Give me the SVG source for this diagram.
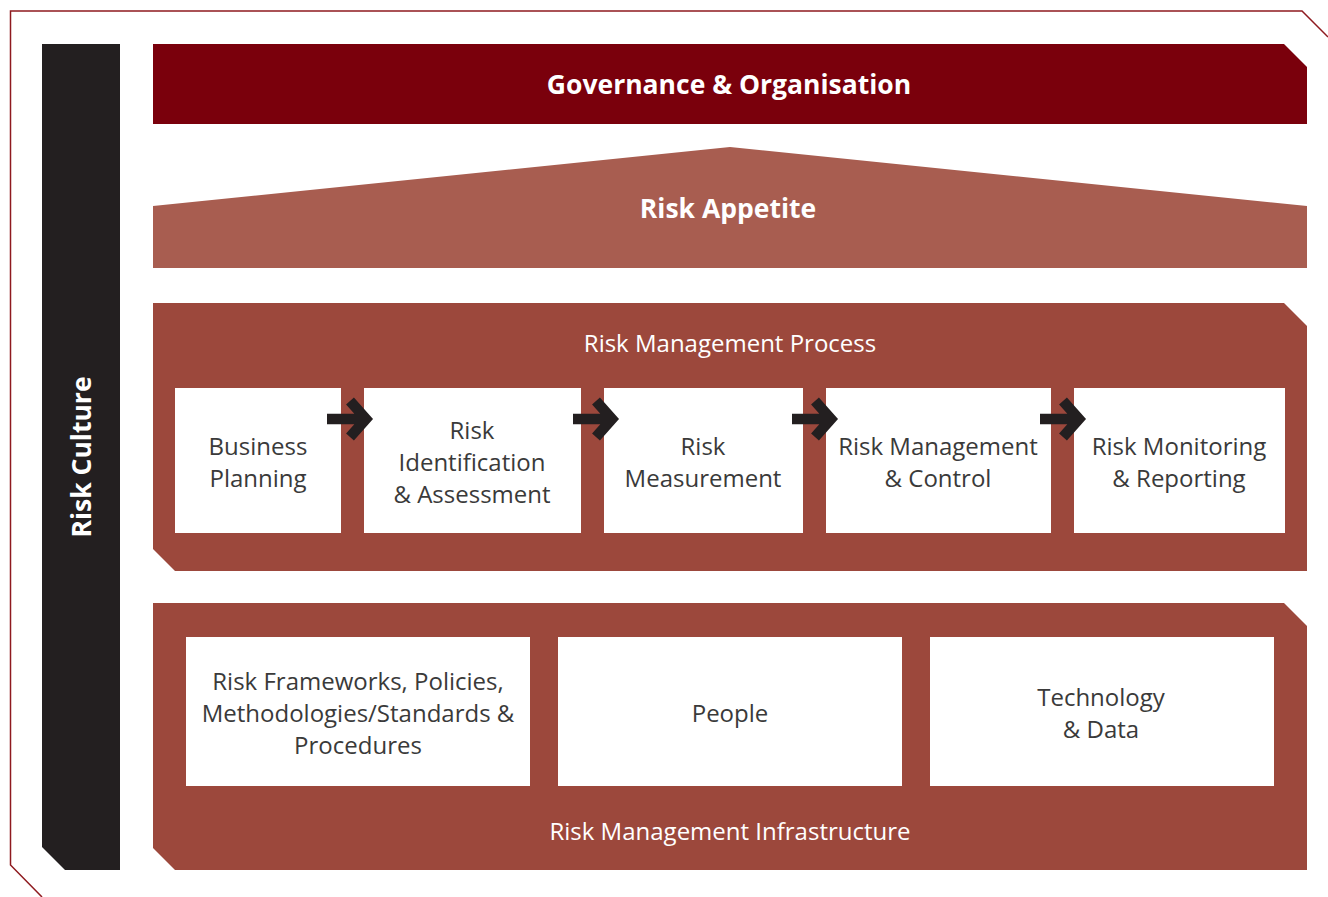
<svg xmlns="http://www.w3.org/2000/svg" width="1328" height="897" viewBox="0 0 1328 897">
<defs>
<style>
.t{font-family:"Open Sans","Liberation Sans",sans-serif;}
.w{fill:#ffffff;}
.b{font-weight:bold;font-size:26.5px;}
.d{fill:#3a3a3a;font-size:24px;}
.h{font-size:24px;}
.box{fill:#ffffff;}
.band{fill:#9c483c;}
.arr{fill:none;stroke:#231f20;stroke-width:10.5;stroke-linejoin:miter;stroke-miterlimit:4;}
</style>
</defs>
<rect width="1328" height="897" fill="#ffffff"/>
<g id="frame">
<polyline points="1328,37 1302,11 10.5,11 10.5,865 42,897" fill="none" stroke="#8e1a1f" stroke-width="1.5"/>
</g>
<g id="risk-culture">
<polygon points="42,44 120,44 120,870 65,870 42,847" fill="#231f20"/>
<text class="t w b" text-anchor="middle" transform="translate(91,457) rotate(-90)">Risk Culture</text>
</g>
<g id="governance">
<polygon points="153,44 1284,44 1307,67 1307,124 153,124" fill="#7a000c"/>
<text class="t w b" x="729" y="94" text-anchor="middle">Governance &amp; Organisation</text>
</g>
<g id="risk-appetite">
<polygon points="153,206 730,147 1307,206 1307,268 153,268" fill="#a85d50"/>
<text class="t w b" x="728" y="218" text-anchor="middle">Risk Appetite</text>
</g>
<g id="process">
<polygon class="band" points="153,303 1284,303 1307,326 1307,571 175,571 153,549"/>
<text class="t w h" x="730" y="352" text-anchor="middle">Risk Management Process</text>
</g>
<g id="business-planning">
<rect class="box" x="175" y="388" width="166" height="145"/>
<text class="t d" text-anchor="middle"><tspan x="258" y="455">Business</tspan><tspan x="258" y="487">Planning</tspan></text>
</g>
<g id="risk-identification">
<rect class="box" x="364" y="388" width="217" height="145"/>
<text class="t d" text-anchor="middle"><tspan x="472" y="439">Risk</tspan><tspan x="472" y="471">Identification</tspan><tspan x="472" y="503">&amp; Assessment</tspan></text>
</g>
<g id="risk-measurement">
<rect class="box" x="604" y="388" width="199" height="145"/>
<text class="t d" text-anchor="middle"><tspan x="703" y="455">Risk</tspan><tspan x="703" y="487">Measurement</tspan></text>
</g>
<g id="risk-control">
<rect class="box" x="826" y="388" width="225" height="145"/>
<text class="t d" text-anchor="middle"><tspan x="938" y="455">Risk Management</tspan><tspan x="938" y="487">&amp; Control</tspan></text>
</g>
<g id="risk-monitoring">
<rect class="box" x="1074" y="388" width="211" height="145"/>
<text class="t d" text-anchor="middle"><tspan x="1179" y="455">Risk Monitoring</tspan><tspan x="1179" y="487">&amp; Reporting</tspan></text>
</g>
<g id="connectors">
<path class="arr" d="M327,419 H362 M350,401 L366,419 L350,437"/>
<path class="arr" d="M573,419 H608 M596,401 L612,419 L596,437"/>
<path class="arr" d="M792,419 H827 M815,401 L831,419 L815,437"/>
<path class="arr" d="M1040,419 H1075 M1063,401 L1079,419 L1063,437"/>
</g>
<g id="infrastructure">
<polygon class="band" points="153,603 1284,603 1307,626 1307,870 175,870 153,848"/>
<text class="t w h" x="730" y="840" text-anchor="middle">Risk Management Infrastructure</text>
</g>
<g id="frameworks">
<rect class="box" x="186" y="637" width="344" height="149"/>
<text class="t d" text-anchor="middle"><tspan x="358" y="690">Risk Frameworks, Policies,</tspan><tspan x="358" y="722">Methodologies/Standards &amp;</tspan><tspan x="358" y="754">Procedures</tspan></text>
</g>
<g id="people">
<rect class="box" x="558" y="637" width="344" height="149"/>
<text class="t d" x="730" y="722" text-anchor="middle">People</text>
</g>
<g id="technology">
<rect class="box" x="930" y="637" width="344" height="149"/>
<text class="t d" text-anchor="middle"><tspan x="1101" y="706">Technology</tspan><tspan x="1101" y="738">&amp; Data</tspan></text>
</g>
</svg>
